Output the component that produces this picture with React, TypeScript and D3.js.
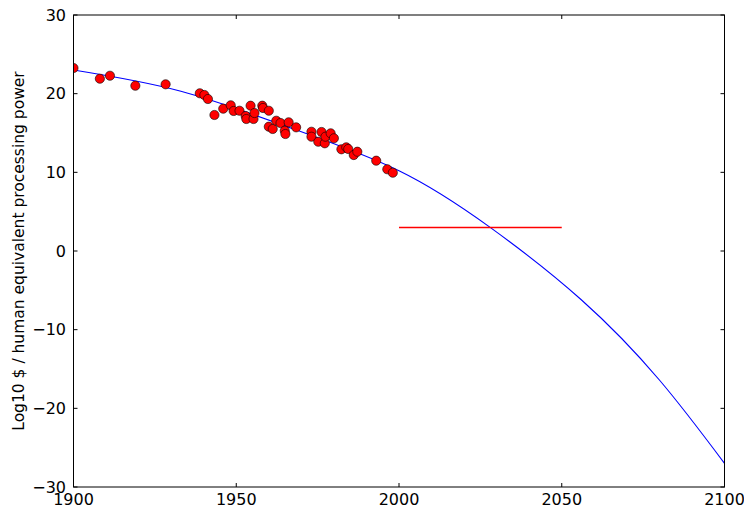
import React from "react";
import * as d3 from "d3";

const pointYears = [
  1900.0, 1908.1, 1911.2, 1919.0, 1928.3, 1938.8, 1940.2, 1941.3, 1943.3, 1946.0,
  1948.3, 1949.2, 1951.0, 1952.9, 1953.1, 1955.3, 1954.4, 1955.6, 1958.0, 1958.2,
  1960.0, 1960.0, 1961.2, 1962.3, 1963.6, 1966.1, 1964.9, 1965.1, 1968.4, 1973.1,
  1973.1, 1975.2, 1976.2, 1977.2, 1977.4, 1979.0, 1980.0, 1982.3, 1983.8, 1984.4,
  1986.1, 1987.2, 1993.0, 1996.4, 1998.1,
];
const pointValues = [
  23.26, 21.9, 22.28, 21.01, 21.19, 20.05, 19.83, 19.32, 17.29, 18.09,
  18.52, 17.8, 17.83, 17.16, 16.78, 16.78, 18.47, 17.54, 18.47, 18.18,
  17.83, 15.8, 15.51, 16.56, 16.27, 16.36, 15.29, 14.87, 15.72, 15.16,
  14.53, 13.89, 15.13, 13.69, 14.53, 14.96, 14.33, 12.93, 13.18, 12.97,
  12.2, 12.62, 11.48, 10.39, 9.95,
];

const fitYears = [1900, 1933, 1967, 2000, 2028, 2056, 2080, 2100];
const fitValues = [23.0, 20.3, 15.6, 10.2, 3.0, -6.2, -16.4, -27.0];

const thresholdYears = [2000, 2050];
const thresholdValue = 3;

const xTicks = [1900, 1950, 2000, 2050, 2100];
const yTicks = [-30, -20, -10, 0, 10, 20, 30];
const yLabel = "Log10 $ / human equivalent processing power";

const W = 744;
const H = 510;
const L = 73.5;
const R = 724.5;
const T = 15;
const B = 487;

export default function App() {
  const x = d3.scaleLinear().domain([1900, 2100]).range([L, R]);
  const y = d3.scaleLinear().domain([-30, 30]).range([B, T]);
  const fitLine = d3
    .line<number>()
    .x((_, i) => x(fitYears[i]))
    .y((v) => y(v))
    .curve(d3.curveNatural)(fitValues) as string;
  const font = "'DejaVu Sans', sans-serif";
  const fmt = (v: number) => (v < 0 ? "\u2212" + Math.abs(v) : String(v));
  return (
    <svg
      width={W}
      height={H}
      style={{ position: "absolute", left: 0, top: 0, background: "#fff" }}
      fontFamily={font}
    >
      <defs>
        <clipPath id="plot">
          <rect x={L} y={T} width={R - L} height={B - T} />
        </clipPath>
      </defs>
      <rect x={0} y={0} width={W} height={H} fill="#fff" />
      <g clipPath="url(#plot)">
        <path d={fitLine} fill="none" stroke="#0000ff" strokeWidth={1.1} />
        <line
          x1={x(thresholdYears[0])}
          x2={x(thresholdYears[1])}
          y1={y(thresholdValue)}
          y2={y(thresholdValue)}
          stroke="#ff0000"
          strokeWidth={1.5}
        />
        {pointYears.map((yr, i) => (
          <circle
            key={i}
            cx={x(yr)}
            cy={y(pointValues[i])}
            r={4.6}
            fill="#ff0000"
            stroke="#000"
            strokeWidth={0.6}
          />
        ))}
      </g>
      <rect x={L} y={T} width={R - L} height={B - T} fill="none" stroke="#000" strokeWidth={1} />
      {xTicks.map((t) => (
        <g key={"x" + t}>
          <line x1={x(t)} x2={x(t)} y1={B} y2={B - 4} stroke="#000" />
          <line x1={x(t)} x2={x(t)} y1={T} y2={T + 4} stroke="#000" />
          <text x={x(t)} y={505} fontSize={16} textAnchor="middle" fill="#000">
            {t}
          </text>
        </g>
      ))}
      {yTicks.map((t) => (
        <g key={"y" + t}>
          <line x1={L} x2={L + 4} y1={y(t)} y2={y(t)} stroke="#000" />
          <line x1={R} x2={R - 4} y1={y(t)} y2={y(t)} stroke="#000" />
          <text x={66} y={y(t) + 5.8} fontSize={16} textAnchor="end" fill="#000">
            {fmt(t)}
          </text>
        </g>
      ))}
      <text
        transform={`translate(24,${(T + B) / 2}) rotate(-90)`}
        fontSize={15.5}
        textAnchor="middle"
        fill="#000"
      >
        {yLabel}
      </text>
    </svg>
  );
}
